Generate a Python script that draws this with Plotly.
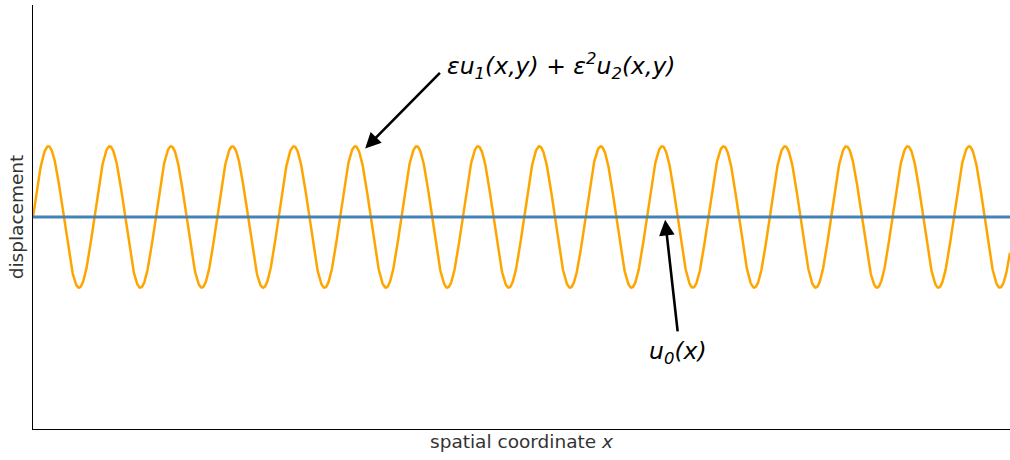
import numpy as np
import plotly.graph_objects as go

# Domain and wave parameters of the displacement field
x_start, x_end = 0.0, 10.0
n_samples = 2000
wave_number = 10.0          # u1 ~ sin(k x)
wave_amplitude = 1.0
base_level = 0.0            # u0(x) is flat
y_limits = [-3.0, 3.0]

x = np.linspace(x_start, x_end, n_samples)
u_perturb = wave_amplitude * np.sin(wave_number * x)
u_base = np.full_like(x, base_level)

# Annotation anchors (data coordinates)
label_top = "<i>εu<sub>1</sub>(x,y) + ε<sup>2</sup>u<sub>2</sub>(x,y)</i>"
label_bottom = "<i>u<sub>0</sub>(x)</i>"
arrow_top_tip, arrow_top_tail = (3.40, 0.97), (4.18, 2.06)
arrow_bot_tip, arrow_bot_tail = (6.47, -0.04), (6.60, -1.64)
text_top_pos = (4.22, 2.13)
text_bot_pos = (6.60, -1.92)

fig = go.Figure()
fig.add_trace(go.Scatter(x=x, y=u_perturb, mode="lines",
                         line=dict(color="#FFA500", width=2.5),
                         hoverinfo="skip", showlegend=False))
fig.add_trace(go.Scatter(x=x, y=u_base, mode="lines",
                         line=dict(color="#4682B4", width=3),
                         hoverinfo="skip", showlegend=False))

font_main = "DejaVu Sans, Liberation Sans, sans-serif"

for tip, tail in [(arrow_top_tip, arrow_top_tail), (arrow_bot_tip, arrow_bot_tail)]:
    fig.add_annotation(x=tip[0], y=tip[1], ax=tail[0], ay=tail[1],
                       xref="x", yref="y", axref="x", ayref="y",
                       text="", showarrow=True, arrowhead=2, arrowsize=1.2,
                       arrowwidth=2.6, arrowcolor="black")

fig.add_annotation(x=text_top_pos[0], y=text_top_pos[1], xref="x", yref="y",
                   text=label_top, showarrow=False, xanchor="left", yanchor="middle",
                   font=dict(family=font_main, size=23.5, color="black"))
fig.add_annotation(x=text_bot_pos[0], y=text_bot_pos[1], xref="x", yref="y",
                   text=label_bottom, showarrow=False, xanchor="center", yanchor="middle",
                   font=dict(family=font_main, size=23.5, color="black"))

fig.update_layout(
    width=1010, height=460,
    margin=dict(l=33, r=0, t=5, b=31),
    paper_bgcolor="white", plot_bgcolor="white",
    font=dict(family=font_main, size=18.5, color="#333333"),
)
fig.update_xaxes(range=[x_start, x_end], showgrid=False, zeroline=False,
                 showticklabels=False, ticks="", showline=True,
                 linecolor="black", linewidth=1.2,
                 title=dict(text="spatial coordinate <i>x</i>", standoff=5,
                            font=dict(size=18.5)))
fig.update_yaxes(range=y_limits, showgrid=False, zeroline=False,
                 showticklabels=False, ticks="", showline=True,
                 linecolor="black", linewidth=1.2,
                 title=dict(text="displacement", standoff=3,
                            font=dict(size=18.5)))

fig.write_html("out.html")
